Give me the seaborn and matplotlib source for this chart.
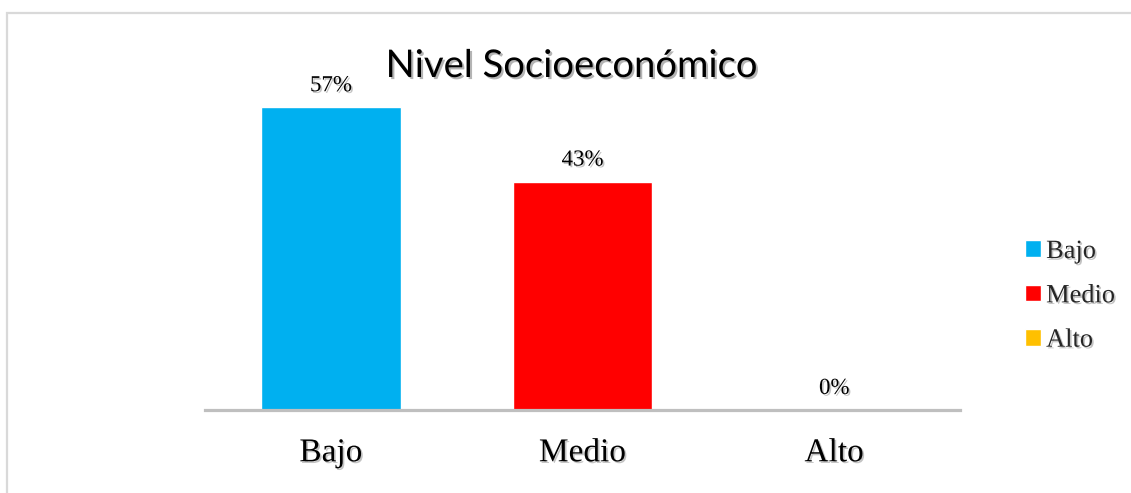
import matplotlib
matplotlib.use("Agg")
import matplotlib.pyplot as plt
import matplotlib.patheffects as pe
from matplotlib.patches import Rectangle
import seaborn as sns
import pandas as pd

categories = ["Bajo", "Medio", "Alto"]
values = [0.57, 0.43, 0.0]
value_labels = ["57%", "43%", "0%"]
colors = ["#00B0F0", "#FF0000", "#FFC000"]
title = "Nivel Socioeconómico"

df = pd.DataFrame({"cat": categories, "val": values})

sns.set_theme(style="white")
plt.rcParams["font.family"] = ["Liberation Serif", "DejaVu Serif"]

fig = plt.figure(figsize=(11.31, 4.93), dpi=100)
ax = fig.add_axes([205/1131, 83/493, 755/1131, 350/493])

sns.barplot(data=df, x="cat", y="val", hue="cat", palette=colors,
            dodge=False, width=0.556, ax=ax, legend=True, saturation=1)

ax.set_xlim(-0.5, 2.5)
ax.set_ylim(0, 350/531)
ax.set_xlabel("")
ax.set_ylabel("")
ax.set_yticks([])
for s in ["top", "left", "right"]:
    ax.spines[s].set_visible(False)
ax.spines["bottom"].set_color("#BFBFBF")
ax.spines["bottom"].set_linewidth(2.3)
ax.tick_params(axis="x", length=0, pad=20, labelsize=24, colors="black")

shadow = [pe.withSimplePatchShadow(offset=(1.2, -1.2), shadow_rgbFace="#888888", alpha=0.5)]
for lbl in ax.get_xticklabels():
    lbl.set_path_effects(shadow)

for i, (v, t) in enumerate(zip(values, value_labels)):
    ax.annotate(t, (i, v), xytext=(0, 8), textcoords="offset points",
                ha="center", va="bottom", fontsize=16.5, color="black",
                path_effects=shadow)

handles, labels = ax.get_legend_handles_labels()
leg = ax.legend(handles, labels, loc="center left",
                bbox_to_anchor=(1025/1131, 1 - 296/493),
                bbox_transform=fig.transFigure, frameon=False, fontsize=19,
                handlelength=0.6, handleheight=0.6, handletextpad=0.2,
                labelspacing=0.82, borderpad=0, borderaxespad=0)
for txt in leg.get_texts():
    txt.set_path_effects(shadow)

fig.text(572/1131, 1 - 66/493, title, ha="center", va="center", fontsize=27.5,
         family=["Lato", "DejaVu Sans"], color="black",
         path_effects=[pe.withSimplePatchShadow(offset=(1.5, -1.5), shadow_rgbFace="#777777", alpha=0.55)])

fig.patches.append(Rectangle((6.5/1131, -0.1), 1.2, (493 - 13.5)/493 + 0.1,
                             transform=fig.transFigure, fill=False,
                             edgecolor="#D9D9D9", linewidth=1.6))

fig.savefig("out.png", dpi=100)
